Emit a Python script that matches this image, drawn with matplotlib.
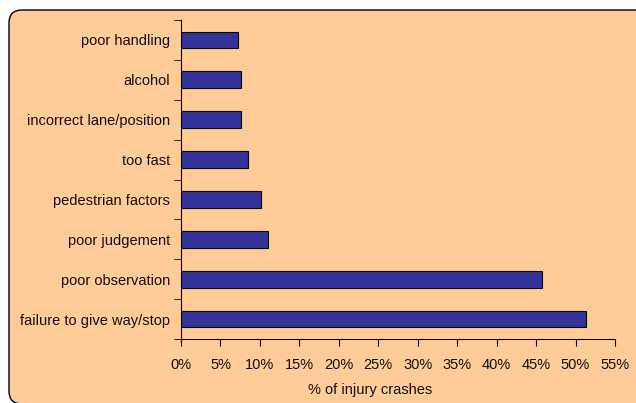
import matplotlib.pyplot as plt
from matplotlib.patches import FancyBboxPatch
from matplotlib.ticker import FixedLocator

plt.rcParams['font.family'] = ['Liberation Sans', 'DejaVu Sans']

categories = ["failure to give way/stop", "poor observation", "poor judgement",
              "pedestrian factors", "too fast", "incorrect lane/position",
              "alcohol", "poor handling"]
values = [51.3, 45.7, 11.0, 10.2, 8.5, 7.6, 7.6, 7.2]
xticks = [0, 5, 10, 15, 20, 25, 30, 35, 40, 45, 50, 55]

W, H = 636, 403
fig = plt.figure(figsize=(W / 100, H / 100), dpi=100)
fig.patch.set_facecolor("white")

# rounded chart-area box (inches), behind the axes; right and bottom edges run off the image
box = FancyBboxPatch((0.09, -0.01), 6.45, 3.94,
                     boxstyle="round,pad=0,rounding_size=0.13",
                     transform=fig.dpi_scale_trans, facecolor="#FFCC99",
                     edgecolor="black", linewidth=1.0, zorder=-10)
fig.patches.append(box)

ax = fig.add_axes([181 / W, 1 - 339 / H, (615 - 181) / W, (339 - 20) / H])
ax.set_facecolor("none")
ax.set_zorder(5)

ypos = list(range(len(categories)))
ax.barh(ypos, values, height=0.42, color="#333399", edgecolor="black",
        linewidth=0.8)

ax.set_xlim(0, 55)
ax.set_ylim(-0.5, len(categories) - 0.5)
ax.set_xticks(xticks)
ax.set_xticklabels([f"{t}%" for t in xticks], fontsize=10.5)
ax.set_yticks(ypos)
ax.set_yticklabels(categories, fontsize=10.5, color="#111111")
ax.tick_params(axis="y", length=0, pad=8)
ax.yaxis.set_minor_locator(FixedLocator([i - 0.5 for i in range(len(categories) + 1)]))
ax.tick_params(axis="y", which="minor", length=5, direction="out")
ax.tick_params(axis="x", length=5, direction="out", pad=9, labelcolor="#111111")

for side in ["top", "right"]:
    ax.spines[side].set_visible(False)

fig.text(370 / W, 1 - 390 / H, "% of injury crashes", ha="center", va="center",
         fontsize=10.5, color="#111111")

fig.savefig("out.png", dpi=100)
